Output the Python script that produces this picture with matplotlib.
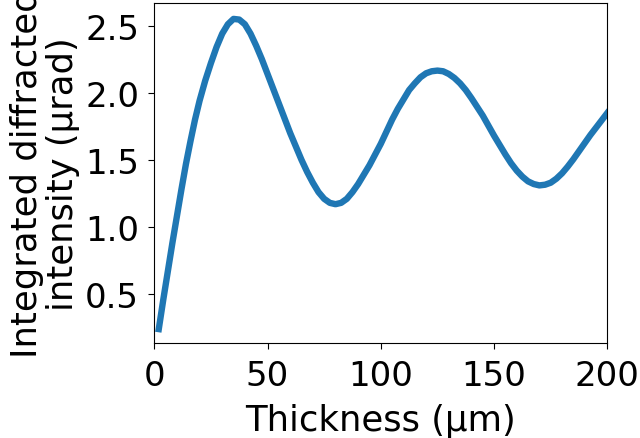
import numpy as np
import matplotlib
matplotlib.use("Agg")
import matplotlib.pyplot as plt

# values
thickness = [2, 4, 6, 8, 10, 12, 14, 16, 18, 20,
             22.5, 25, 27.5, 30, 32.5, 35, 37.5, 40, 42.5, 45,
             47.5, 50, 52.5, 55, 57.5, 60, 62.5, 65, 67.5, 70,
             72.5, 75, 77.5, 80, 82.5, 85, 87.5, 90, 92.5, 95,
             97.5, 100, 102.5, 105, 107.5, 110, 112.5, 115, 117.5, 120,
             122.5, 125, 127.5, 130, 132.5, 135, 137.5, 140, 142.5, 145,
             147.5, 150, 152.5, 155, 157.5, 160, 162.5, 165, 167.5, 170,
             172.5, 175, 177.5, 180, 182.5, 185, 187.5, 190, 192.5, 195,
             197.5, 200]
intensity = [0.24, 0.46, 0.67, 0.88, 1.08, 1.28, 1.47, 1.64, 1.80, 1.94,
             2.09, 2.22, 2.34, 2.44, 2.51, 2.55, 2.545, 2.51, 2.44, 2.35,
             2.25, 2.14, 2.03, 1.92, 1.81, 1.70, 1.60, 1.50, 1.41, 1.33,
             1.26, 1.21, 1.18, 1.17, 1.18, 1.21, 1.26, 1.32, 1.39, 1.46,
             1.54, 1.62, 1.71, 1.80, 1.88, 1.95, 2.02, 2.07, 2.115, 2.145,
             2.16, 2.165, 2.16, 2.14, 2.11, 2.07, 2.02, 1.96, 1.895, 1.83,
             1.755, 1.68, 1.61, 1.54, 1.475, 1.42, 1.375, 1.34, 1.32, 1.31,
             1.315, 1.33, 1.36, 1.40, 1.45, 1.505, 1.565, 1.625, 1.685, 1.74,
             1.795, 1.85]

x_ticks = [0, 50, 100, 150, 200]
y_ticks = [0.5, 1.0, 1.5, 2.0, 2.5]

fig = plt.figure(figsize=(6.4, 4.39), dpi=100)
ax = fig.add_axes([0.241, 0.2157, 0.708, 0.7763])

ax.plot(thickness, intensity, color='#1f77b4', lw=4.6, solid_joinstyle='round')
ax.set_xlim(0, 200)
ax.set_ylim(0.134, 2.672)
ax.set_xticks(x_ticks)
ax.set_yticks(y_ticks)
ax.tick_params(labelsize=24.5, length=4.3)
ax.tick_params(axis='x', pad=7)
ax.tick_params(axis='y', pad=6.5)
ax.set_xlabel('Thickness (µm)', fontsize=25.5, labelpad=8)
ax.set_ylabel('Integrated diffracted\nintensity (µrad)', fontsize=25.5,
              linespacing=1.1, labelpad=3.5)

fig.savefig('out.png', dpi=100)
